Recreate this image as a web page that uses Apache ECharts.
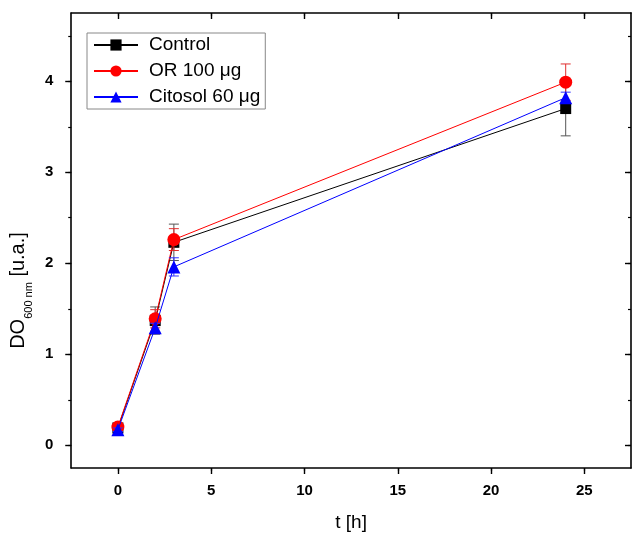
<!DOCTYPE html>
<html>
<head>
<meta charset="utf-8">
<script src="https://cdn.jsdelivr.net/npm/echarts@6/dist/echarts.min.js"></script>
<style>
  html, body { margin: 0; padding: 0; background: #fff; }
  #chart { width: 632px; height: 538px; }
</style>
</head>
<body>
<div id="chart"></div>
<script>
// Growth curve: optical density at 600 nm over time, mean ± error
const tHours = [0, 2, 3, 24];
const controlMean = [0.19, 1.37, 2.23, 3.70];
const controlErr = [0.02, 0.15, 0.20, 0.30];
const orMean = [0.20, 1.39, 2.26, 3.99];
const orErr = [0.02, 0.10, 0.12, 0.20];
const citosolMean = [0.17, 1.29, 1.96, 3.82];
const citosolErr = [0.02, 0.05, 0.10, 0.06];
const seriesNames = ['Control', 'OR 100 \u03bcg', 'Citosol 60 \u03bcg'];
const xTicks = [0, 5, 10, 15, 20, 25];
const yTicks = [0, 1, 2, 3, 4];

const FONT = '"Liberation Sans", Arial, sans-serif';

function pairs(means) {
  return tHours.map((t, i) => [t, means[i]]);
}
function errRows(means, errs) {
  return tHours.map((t, i) => [t, means[i] - errs[i], means[i] + errs[i]]);
}

function errorBar(color) {
  return function (params, api) {
    const x = api.value(0);
    const lo = api.coord([x, api.value(1)]);
    const hi = api.coord([x, api.value(2)]);
    const hw = 5;
    const style = { stroke: color, lineWidth: 1 };
    return {
      type: 'group',
      children: [
        { type: 'line', shape: { x1: lo[0], y1: lo[1], x2: hi[0], y2: hi[1] }, style },
        { type: 'line', shape: { x1: hi[0] - hw, y1: hi[1], x2: hi[0] + hw, y2: hi[1] }, style },
        { type: 'line', shape: { x1: lo[0] - hw, y1: lo[1], x2: lo[0] + hw, y2: lo[1] }, style }
      ]
    };
  };
}

const frameLine = { show: true, onZero: false, lineStyle: { color: '#000', width: 1.6 } };

function xAx(pos, inside, showLabel) {
  return {
    type: 'value', position: pos, min: -2.5, max: 27.5, interval: 5,
    axisLine: frameLine,
    axisTick: { show: true, inside, length: 6, lineStyle: { color: '#000', width: 1.4 },
      customValues: xTicks },
    minorTick: { show: true, splitNumber: 2, length: 3, lineStyle: { color: '#000', width: 1.2 } },
    axisLabel: { show: showLabel, customValues: xTicks, margin: 15, color: '#000',
      fontFamily: FONT, fontWeight: 'bold', fontSize: 15 },
    splitLine: { show: false },
    name: showLabel ? 't [h]' : '',
    nameLocation: 'middle', nameGap: 45,
    nameTextStyle: { fontFamily: FONT, fontSize: 19, color: '#000' }
  };
}
function yAx(pos, inside, showLabel) {
  return {
    type: 'value', position: pos, min: -0.25, max: 4.75, interval: 0.5,
    axisLine: frameLine,
    axisTick: { show: true, inside, length: 6, lineStyle: { color: '#000', width: 1.4 },
      customValues: yTicks },
    minorTick: { show: true, splitNumber: 2, length: 3, lineStyle: { color: '#000', width: 1.2 } },
    axisLabel: { show: showLabel, customValues: yTicks, margin: 18, color: '#000',
      fontFamily: FONT, fontWeight: 'bold', fontSize: 15 },
    splitLine: { show: false },
    name: showLabel ? '{a|DO}{s|600 nm}{a| [u.a.]}' : '',
    nameLocation: 'middle', nameGap: 30, nameRotate: 90,
    nameTextStyle: {
      fontFamily: FONT, color: '#000',
      padding: [0, 100, 0, 0],
      rich: {
        a: { fontFamily: FONT, fontSize: 20, color: '#000', lineHeight: 26, verticalAlign: 'top' },
        s: { fontFamily: FONT, fontSize: 11, color: '#000', lineHeight: 12, verticalAlign: 'bottom' }
      }
    }
  };
}

const colors = ['#000000', '#ff0000', '#0000ff'];
const errColors = ['#555555', '#e03030', '#3030ff'];
const means = [controlMean, orMean, citosolMean];
const errs = [controlErr, orErr, citosolErr];
const symbols = ['rect', 'circle', 'triangle'];
const symbolSizes = [11, 13, 13];

const series = [];
means.forEach((m, i) => {
  series.push({
    type: 'custom', name: seriesNames[i] + ' err', xAxisIndex: 0, yAxisIndex: 0,
    renderItem: errorBar(errColors[i]), data: errRows(m, errs[i]), z: 1 + i * 2,
    silent: true
  });
});
means.forEach((m, i) => {
  series.push({
    type: 'line', name: seriesNames[i], xAxisIndex: 0, yAxisIndex: 0,
    data: pairs(m), symbol: symbols[i], symbolSize: symbolSizes[i],
    showAllSymbol: true,
    lineStyle: { color: colors[i], width: 1 },
    itemStyle: { color: colors[i], borderWidth: 0 },
    z: 2 + i * 2, animation: false
  });
});

const chart = echarts.init(document.getElementById('chart'), null, { renderer: 'canvas' });
chart.setOption({
  animation: false,
  backgroundColor: '#fff',
  grid: { left: 71, right: 1, top: 13, bottom: 70 },
  xAxis: [xAx('bottom', false, true), xAx('top', true, false)],
  yAxis: [yAx('left', false, true), yAx('right', true, false)],
  legend: {
    data: seriesNames,
    orient: 'vertical', left: 87, top: 33,
    padding: [2, 5, 2, 6],
    itemWidth: 44, itemHeight: 14, itemGap: 6,
    borderColor: '#888', borderWidth: 1,
    textStyle: { fontFamily: FONT, fontSize: 19, lineHeight: 20, color: '#000', padding: [0, 0, 0, 6] }
  },
  series
});
</script>
</body>
</html>
